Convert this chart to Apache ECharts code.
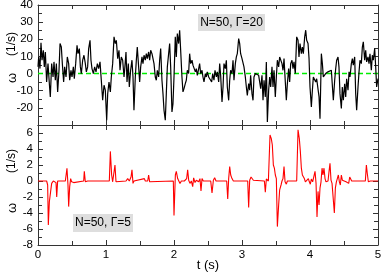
<!DOCTYPE html>
<html><head><meta charset="utf-8">
<script src="https://cdn.jsdelivr.net/npm/echarts@6/dist/echarts.min.js"></script>
<style>html,body{margin:0;padding:0;background:#fff}#c{width:382px;height:275px}</style>
</head><body><div id="c"></div>
<script>
// [t (s), omega (1/s)] for N=50, Gamma=20
const topData = [[0,4],[0.010,9.7],[0.029,2.9],[0.044,18],[0.059,7.8],[0.078,13.6],[0.093,3.9],[0.108,12.6],[0.127,-4.9],[0.147,5.8],[0.167,-5.9],[0.181,-13.6],[0.201,5.8],[0.221,-2],[0.235,6.8],[0.255,-3.9],[0.270,5.8],[0.289,-10.7],[0.309,1.9],[0.324,17.5],[0.343,15.5],[0.358,5.8],[0.377,-4.9],[0.392,3.9],[0.412,-2],[0.431,9.7],[0.451,5.8],[0.466,-3.9],[0.485,1.9],[0.500,-2],[0.520,3.9],[0.534,-3],[0.554,5.8],[0.574,16.5],[0.588,11.6],[0.608,14.6],[0.623,3.9],[0.637,0],[0.657,7.8],[0.676,10.7],[0.696,5.8],[0.711,1],[0.730,3.9],[0.745,14.6],[0.765,19.4],[0.779,7.8],[0.794,2.9],[0.814,0],[0.833,3.9],[0.853,1],[0.873,5.8],[0.892,2.9],[0.912,6.8],[0.931,-3.9],[0.951,-15.6],[0.971,-6.8],[0.990,-9.7],[1.010,-27.2],[1.025,-11.7],[1.044,-4.9],[1.064,-10.7],[1.078,-2],[1.098,5.8],[1.118,21.4],[1.137,17.5],[1.152,19.4],[1.172,8.7],[1.191,13.6],[1.206,1.9],[1.225,9.7],[1.245,7.8],[1.265,-2],
[1.274,1.9],[1.294,12.6],[1.309,-4.9],[1.328,5.8],[1.343,-7.8],[1.362,1.9],[1.382,7.8],[1.397,-2],[1.411,-21.4],[1.431,-2],[1.446,7.8],[1.460,15.5],[1.480,3.9],[1.495,-4.9],[1.510,3.9],[1.529,9.7],[1.544,5.8],[1.559,10.7],[1.578,7.8],[1.593,11.6],[1.608,8.7],[1.627,12.6],[1.642,7.8],[1.657,13.6],[1.676,11.6],[1.691,11.6],[1.706,5.8],[1.725,-2],[1.740,-3.9],[1.755,1.9],[1.774,-2],[1.789,7.8],[1.804,14.6],[1.823,-3.9],[1.838,-11.7],[1.853,-21.4],[1.872,-27.2],[1.887,-11.7],[1.902,3.9],[1.921,11.6],[1.936,17.5],[1.951,3.9],[1.970,-22.4],[1.985,-17.5],[2.000,-2],[2.019,21.4],[2.034,9.7],[2.049,23.3],[2.068,17.5],[2.083,25.3],[2.098,13.6],[2.117,-2],[2.132,-10.7],[2.147,-8.8],[2.166,-5.9],[2.181,-3.9],[2.196,1.9],[2.215,0],[2.230,11.6],[2.245,5.8],[2.265,7.8],[2.279,4.9],[2.294,5.8],[2.314,1],[2.328,2.9],[2.343,-1],[2.363,2.9],[2.377,5.8],[2.392,0],[2.412,1.9],[2.426,-2],[2.441,-4.9],[2.461,0],[2.475,-2],[2.490,1],[2.510,-2],
[2.539,-2],[2.554,-4.9],[2.569,0],[2.588,-3.9],[2.603,1.9],[2.623,-2],[2.637,1],[2.657,-4.9],[2.672,5.8],[2.686,-1],[2.706,-16.5],[2.721,-7.8],[2.735,5.8],[2.755,2.9],[2.770,7.8],[2.784,-7.8],[2.804,-15.6],[2.819,-3.9],[2.833,1.9],[2.853,0],[2.868,7.8],[2.882,-3.9],[2.902,5.8],[2.917,9.7],[2.931,11.6],[2.951,20.4],[2.966,17.5],[2.980,11.6],[3.000,8.7],[3.015,7.8],[3.029,3.9],[3.049,-2],[3.064,-7.8],[3.078,-12.7],[3.098,-5.9],[3.113,-9.7],[3.127,-1],[3.147,-11.7],[3.162,-15.6],[3.176,-2],[3.196,0],[3.211,-1],[3.225,0],[3.245,-1],[3.260,0],[3.275,-8.8],[3.294,-1],[3.309,-15.6],[3.324,-3.9],[3.343,-13.6],[3.358,6.8],[3.373,-28.2],[3.392,-9.7],[3.407,-2],[3.422,-7.8],[3.441,3.9],[3.456,-7.8],[3.471,1.9],[3.490,-13.6],[3.505,-2],[3.520,7.8],[3.539,3.9],[3.554,9.7],[3.569,8.7],[3.588,5.8],[3.603,1.9],[3.618,8.7],[3.637,-4.9],[3.652,-15.6],[3.667,-5.9],[3.686,2.9],[3.701,-4.9],[3.716,5.8],[3.735,7.8],[3.750,2.9],[3.765,6.8],[3.784,0],
[3.804,21.4],[3.824,19.4],[3.838,9.7],[3.853,17.5],[3.873,11.6],[3.888,15.5],[3.902,11.6],[3.922,21.4],[3.937,25.3],[3.951,19.4],[3.971,17.5],[3.986,8.7],[4.000,-7.8],[4.020,-19.5],[4.035,-9.7],[4.049,-2],[4.069,-1],[4.084,-4.9],[4.098,-3],[4.118,-3.9],[4.133,-13.6],[4.147,-26.3],[4.167,11.6],[4.182,5.8],[4.196,-2],[4.216,-1],[4.230,0],[4.245,1],[4.265,1],[4.280,1],[4.294,1.5],[4.314,1.9],[4.328,1],[4.343,-15.6],[4.363,-3.9],[4.378,2.9],[4.392,7.8],[4.412,9.7],[4.426,3.9],[4.441,-11.7],[4.461,-20.4],[4.475,-7.8],[4.490,-15.6],[4.510,-5.9],[4.525,-13.6],[4.539,-3],[4.559,-9.7],[4.574,1],[4.588,-1.9],[4.608,5.8],[4.623,8.7],[4.637,4.9],[4.657,9.7],[4.672,-11.7],[4.686,-21.4],[4.706,-7.8],[4.721,1],[4.735,7.8],[4.755,5.8],[4.770,15.5],[4.784,18.5],[4.804,7.8],[4.819,13.6],[4.833,6.8],[4.853,9.7],[4.868,5.8],[4.882,11.6],[4.902,1.9],[4.917,10.7],[4.931,7.8],[4.951,14.6],[4.966,3.9],[4.980,-7.8],[5.000,-3]];

// [t (s), omega (1/s)] for N=50, Gamma=5
const bottomData = [[0,0],[0.127,0],[0.142,-0.5],[0.152,-5.5],[0.167,-2.6],[0.186,-1.3],[0.201,-0.3],[0.225,0],[0.250,0.1],[0.265,-0.2],[0.275,-2],[0.289,0],[0.304,0.1],[0.324,0],[0.402,0],[0.412,-0.1],[0.426,1.6],[0.441,-0.5],[0.451,-3.2],[0.466,-0.7],[0.480,0.3],[0.495,-0.1],[0.510,0.1],[0.525,-0.2],[0.549,0],[0.672,0],[0.681,1.2],[0.696,-0.1],[0.711,-0.2],[0.730,0],[1.049,0],[1.064,3.7],[1.083,0.75],[1.098,-0.1],[1.113,0.1],[1.132,2],[1.147,-0.1],[1.162,0],[1.294,0],[1.319,0.3],[1.343,0],[1.368,0.5],[1.382,1.4],[1.397,-0.3],[1.412,0],[1.564,0.3],[1.578,0],[1.613,0],[1.627,0.75],[1.642,-0.1],[1.662,0],[1.990,0],[2.000,-4.3],[2.020,0.75],[2.034,1.2],[2.054,0.3],[2.069,0.5],[2.088,-0.3],[2.108,0],[2.127,-0.1],[2.152,0],[2.186,0.3],[2.201,1.4],[2.216,0.1],[2.235,-0.3],[2.255,0],[2.275,-0.7],[2.289,0.4],[2.309,-0.2],[2.328,0.1],[2.348,0.3],[2.363,-0.1],[2.382,0.3],[2.397,-1.25],[2.412,0.3],[2.431,0],[2.540,0],[2.559,-1.5],[2.579,0.1],[2.598,0.4],[2.618,0],[2.775,0],[2.790,-2.25],[2.804,0.3],[2.819,1.8],[2.834,0.75],[2.853,0.3],[2.873,0],[3.084,0],[3.098,-3.3],[3.113,0.1],[3.133,0.5],[3.147,0.5],[3.167,0.1],[3.187,0],[3.329,0],[3.343,-1.4],[3.358,0.25],[3.373,0.3],[3.388,0],[3.402,0.1],[3.412,5.75],[3.431,5.3],[3.446,4.5],[3.461,2],[3.476,1.6],[3.490,0.75],[3.505,0.3],[3.520,-5.7],[3.539,-3],[3.554,-1.1],[3.574,-0.5],[3.588,0],[3.603,0.3],[3.618,1.8],[3.633,-0.1],[3.652,-0.4],[3.667,0],[3.804,0],[3.824,6.4],[3.843,5.3],[3.858,3.7],[3.873,1.6],[3.888,0.75],[3.902,1],[3.917,0.3],[3.932,-0.1],[3.946,0.1],[3.961,-0.3],[3.976,0.3],[3.990,-0.1],[4.005,-0.4],[4.020,0.25],[4.039,-0.1],[4.059,0.1],[4.074,1.2],[4.089,-0.3],[4.103,-4.5],[4.118,-1.3],[4.133,-3],[4.147,-0.9],[4.162,-0.1],[4.177,1.6],[4.191,0.75],[4.206,1.6],[4.221,0.3],[4.235,-0.1],[4.250,0.1],[4.265,0],[4.280,1.2],[4.294,2.2],[4.309,0.1],[4.324,-0.3],[4.339,-0.1],[4.358,-4],[4.373,-0.9],[4.388,-0.1],[4.402,0.3],[4.417,0.75],[4.432,-0.1],[4.446,-0.5],[4.461,0.75],[4.476,0.1],[4.490,-0.1],[4.530,-0.1],[4.569,-0.3],[4.584,0.5],[4.598,0.25],[4.613,0],[4.627,0.1],[4.652,0],[4.814,0],[4.829,2],[4.843,0.9],[4.858,-0.1],[4.873,-0.3],[4.888,0],[4.902,-0.1],[4.922,0],[5,0]];

const xRange = [0, 5];
const topYRange = [-30, 40];
const bottomYRange = [-8, 7];
const zeroRef = [[0, 0], [5, 0]];
const topLabel = 'N=50, Γ=20';
const bottomLabel = 'N=50, Γ=5';
const yTitle = 'ω';
const yUnit = '(1/s)';
const xTitle = 't (s)';

const FONT = '"Liberation Sans", Arial, sans-serif';
const AX = '#333';
const GREEN = '#00ee00';
const chart = echarts.init(document.getElementById('c'), null, {renderer: 'canvas'});

function xAx(grid, pos, labels) {
  return {
    type: 'value', gridIndex: grid, position: pos, min: xRange[0], max: xRange[1], interval: 1,
    axisLine: {show: true, onZero: false, lineStyle: {color: AX, width: 1}},
    axisTick: {show: true, inside: true, length: 5, lineStyle: {color: AX}},
    minorTick: {show: true, splitNumber: 2, length: 4, lineStyle: {color: AX}},
    axisLabel: {show: labels, color: '#000', fontSize: 11.5, fontFamily: FONT, margin: 4},
    splitLine: {show: false}, minorSplitLine: {show: false}
  };
}
function yAx(grid, pos, range, interval, labels) {
  return {
    type: 'value', gridIndex: grid, position: pos, min: range[0], max: range[1], interval: interval,
    axisLine: {show: true, onZero: false, lineStyle: {color: AX, width: 1}},
    axisTick: {show: true, inside: true, length: 5, lineStyle: {color: AX}},
    minorTick: {show: true, splitNumber: 2, length: 4, lineStyle: {color: AX}},
    axisLabel: {show: labels, color: '#000', fontSize: 11.5, fontFamily: FONT, margin: 5, showMinLabel: grid === 1, showMaxLabel: grid === 0},
    splitLine: {show: false}, minorSplitLine: {show: false}
  };
}

chart.setOption({
  animation: false,
  backgroundColor: '#fff',
  grid: [
    {left: 38, top: 5, width: 340, height: 120, containLabel: false, outerBoundsMode: 'none'},
    {left: 38, top: 125, width: 340, height: 120, containLabel: false, outerBoundsMode: 'none'}
  ],
  xAxis: [xAx(0, 'bottom', false), xAx(0, 'top', false), xAx(1, 'bottom', true), xAx(1, 'top', false)],
  yAxis: [yAx(0, 'left', topYRange, 10, true), yAx(0, 'right', topYRange, 10, false),
          yAx(1, 'left', bottomYRange, 2, true), yAx(1, 'right', bottomYRange, 2, false)],
  series: [
    {name: 'zero', type: 'line', xAxisIndex: 0, yAxisIndex: 0, data: zeroRef, symbol: 'none', silent: true,
     itemStyle: {color: GREEN}, lineStyle: {color: GREEN, width: 1.6, type: [5, 3]}, z: 1},
    {name: 'g20', type: 'line', xAxisIndex: 0, yAxisIndex: 0, data: topData, symbol: 'none',
     itemStyle: {color: '#000'}, lineStyle: {color: '#000', width: 1.2}, z: 2},
    {name: 'g5', type: 'line', xAxisIndex: 2, yAxisIndex: 2, data: bottomData, symbol: 'none',
     itemStyle: {color: '#ff0000'}, lineStyle: {color: '#ff0000', width: 1.1}, z: 2}
  ],
  graphic: [
    {type: 'rect', shape: {x: 198, y: 14, width: 67, height: 17}, style: {fill: '#dedede'}, z: 10},
    {type: 'text', x: 231.5, y: 22.5, style: {text: topLabel, font: '12px ' + FONT, fill: '#000', align: 'center', verticalAlign: 'middle'}, z: 11},
    {type: 'rect', shape: {x: 73, y: 214, width: 60, height: 18}, style: {fill: '#dedede'}, z: 10},
    {type: 'text', x: 103, y: 223, style: {text: bottomLabel, font: '12px ' + FONT, fill: '#000', align: 'center', verticalAlign: 'middle'}, z: 11},
    {type: 'text', x: 12, y: 44, rotation: Math.PI / 2, style: {text: yUnit, font: '12px ' + FONT, fill: '#000', align: 'center', verticalAlign: 'middle'}},
    {type: 'text', x: 12, y: 78, rotation: Math.PI / 2, style: {text: yTitle, font: '13px ' + FONT, fill: '#000', align: 'center', verticalAlign: 'middle'}},
    {type: 'text', x: 12, y: 161, rotation: Math.PI / 2, style: {text: yUnit, font: '12px ' + FONT, fill: '#000', align: 'center', verticalAlign: 'middle'}},
    {type: 'text', x: 12, y: 208, rotation: Math.PI / 2, style: {text: yTitle, font: '13px ' + FONT, fill: '#000', align: 'center', verticalAlign: 'middle'}},
    {type: 'text', x: 208, y: 265, style: {text: xTitle, font: '13px ' + FONT, fill: '#000', align: 'center', verticalAlign: 'middle'}}
  ]
});
</script></body></html>
